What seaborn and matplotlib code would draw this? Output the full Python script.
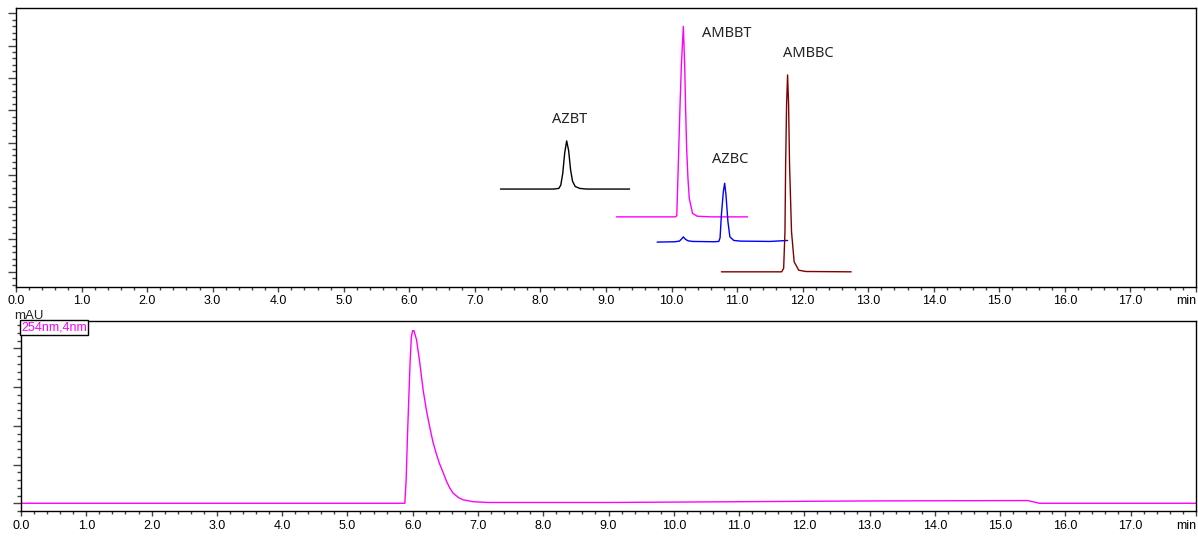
import numpy as np
import pandas as pd
import matplotlib
matplotlib.use("Agg")
import matplotlib.pyplot as plt
from matplotlib.ticker import MultipleLocator, FixedLocator, FixedFormatter
import seaborn as sns

# ---- data (time in min, signal in tick units) ----
azbt_t = [7.39, 8.20, 8.28, 8.31, 8.34, 8.37, 8.40, 8.43, 8.46, 8.49, 8.53, 8.60, 8.70, 9.36]
azbt_y = [2.56, 2.56, 2.58, 2.68, 3.04, 3.68, 4.05, 3.75, 3.15, 2.80, 2.64, 2.58, 2.56, 2.56]

ambbt_t = [9.16, 10.06, 10.08, 10.11, 10.13, 10.15, 10.18, 10.20, 10.215, 10.23,
           10.25, 10.27, 10.32, 10.39, 10.60, 11.16]
ambbt_y = [1.70, 1.70, 1.74, 3.82, 5.20, 6.40, 7.59, 6.40, 5.00, 3.82,
           2.90, 2.27, 1.81, 1.72, 1.70, 1.70]

azbc_t = [9.78, 10.05, 10.12, 10.15, 10.18, 10.21, 10.25, 10.32, 10.65, 10.72, 10.74,
          10.76, 10.79, 10.81, 10.83, 10.86, 10.89, 10.95, 11.05, 11.50, 11.77]
azbc_y = [0.92, 0.93, 0.95, 1.01, 1.08, 1.01, 0.96, 0.94, 0.93, 0.94, 1.05,
          1.75, 2.48, 2.74, 2.38, 1.55, 1.08, 0.97, 0.95, 0.94, 0.97]

ambbc_t = [10.76, 11.68, 11.71, 11.73, 11.74, 11.755, 11.77, 11.785, 11.80, 11.83,
           11.87, 11.94, 12.05, 12.74]
ambbc_y = [0.00, 0.00, 0.11, 1.24, 3.30, 5.20, 6.09, 5.20, 3.30, 1.24,
           0.31, 0.05, 0.01, 0.00]

uv_t = [0.0, 5.88, 5.90, 5.92, 5.96, 5.98, 6.00, 6.02, 6.06, 6.11, 6.16, 6.21, 6.26,
        6.31, 6.36, 6.41, 6.47, 6.52, 6.57, 6.62, 6.70, 6.77, 6.93, 7.16, 9.0,
        11.0, 13.0, 15.42, 15.50, 15.60, 18.0]
uv_y = [0.0, 0.0, 0.60, 1.72, 3.62, 4.30, 4.46, 4.46, 4.22, 3.62, 2.93, 2.41, 1.98,
        1.59, 1.29, 1.03, 0.78, 0.56, 0.39, 0.26, 0.15, 0.09, 0.04, 0.02, 0.02,
        0.04, 0.06, 0.07, 0.04, 0.0, 0.0]

peak_names = ["AZBT", "AMBBT", "AZBC", "AMBBC"]
label_t = [8.44, 10.84, 10.89, 12.09]
label_y = [4.70, 7.38, 3.48, 6.74]

x_ticks = list(range(0, 19))
x_labels = [f"{v:.1f}" for v in x_ticks[:-1]] + ["min"]

sns.set_style("white")
plt.rcParams["font.family"] = ["Liberation Sans", "DejaVu Sans"]

fig = plt.figure(figsize=(11.98, 5.37), dpi=100)
ax1 = fig.add_axes([16 / 1198, 1 - 286.7 / 537, 1180 / 1198, 278.7 / 537])
ax2 = fig.add_axes([21 / 1198, 1 - 511 / 537, 1175 / 1198, 190 / 537])

traces = [(azbt_t, azbt_y, "black"), (ambbt_t, ambbt_y, "#ff00ff"),
          (azbc_t, azbc_y, "#0000ff"), (ambbc_t, ambbc_y, "#800000")]
for t, y, c in traces:
    df = pd.DataFrame({"t": t, "y": y})
    sns.lineplot(data=df, x="t", y="y", color=c, lw=1.0, estimator=None, ax=ax1)

for name, t, y in zip(peak_names, label_t, label_y):
    ax1.text(t, y, name, ha="center", va="center", fontsize=10.5,
             family=["Noto Sans", "DejaVu Sans"], color="#222222")

df_uv = pd.DataFrame({"t": uv_t, "y": uv_y})
sns.lineplot(data=df_uv, x="t", y="y", color="#ff00ff", lw=1.0, estimator=None, ax=ax2)

ax1.set_ylim(-0.46, 8.16)
ax2.set_ylim(-0.2, 4.71)

for ax in (ax1, ax2):
    ax.set_xlim(0, 18.0)
    ax.set_xlabel("")
    ax.set_ylabel("")
    ax.xaxis.set_major_locator(FixedLocator(x_ticks))
    ax.xaxis.set_major_formatter(FixedFormatter(x_labels))
    ax.xaxis.set_minor_locator(MultipleLocator(0.2))
    ax.yaxis.set_major_locator(MultipleLocator(1))
    ax.yaxis.set_minor_locator(MultipleLocator(0.2))
    ax.set_yticklabels([])
    ax.tick_params(axis="x", which="major", length=3.8, width=1, color="#444444",
                   labelsize=9, pad=2.5, direction="out", labelcolor="black")
    ax.tick_params(axis="x", which="minor", length=2, width=1, color="#444444",
                   direction="out")
    ax.tick_params(axis="y", which="major", length=5.5, width=1, color="#444444",
                   direction="out")
    ax.tick_params(axis="y", which="minor", length=3, width=1, color="#444444",
                   direction="out")
    ax.tick_params(left=True, bottom=True, top=False, right=False, which="both")
    for s in ax.spines.values():
        s.set_color("black")
        s.set_linewidth(1.0)
    # the last tick carries the unit; keep it inside the figure
    ax.get_xticklabels()[-1].set_horizontalalignment("right")

ax2.text(0.0, 1.0, "254nm,4nm", transform=ax2.transAxes, ha="left", va="top",
         fontsize=9, color="#ff00ff",
         bbox=dict(boxstyle="square,pad=0.12", fc="white", ec="black", lw=1.0))
fig.text(14 / 1198, 1 - 316 / 537, "mAU", ha="left", va="center", fontsize=9.5)

fig.savefig("out.png", dpi=100)
